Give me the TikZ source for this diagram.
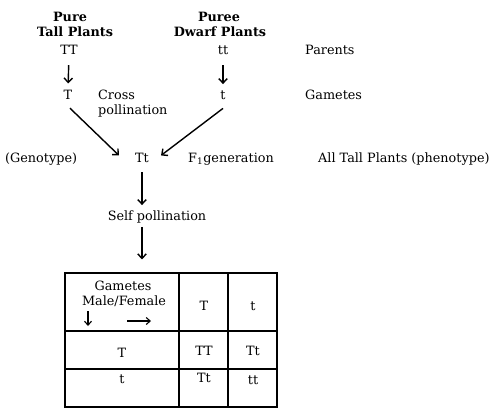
\documentclass[tikz,border=0pt]{standalone}
\usepackage{fontspec}
\setmainfont{DejaVu Serif}
\usetikzlibrary{arrows.meta}
\tikzset{
  lbl/.style={inner sep=0pt, anchor=base, font=\fontsize{12.8}{15}\selectfont},
  lblw/.style={lbl, anchor=base west},
  head/.style={lbl, font=\fontsize{12.8}{15}\selectfont\bfseries},
  arr/.style={line width=1.4pt, -{Straight Barb[length=4.5pt,width=8.5pt]}},
  grid/.style={line width=1.1pt},
}
\begin{document}
\begin{tikzpicture}[x=1pt,y=-1pt]
\useasboundingbox (0,0) rectangle (495,416);
% headers
\node[head] (pure) at (70,21) {Pure};
\node[head] (tall) at (75,36) {Tall Plants};
\node[head] (puree) at (219,21) {Puree};
\node[head] (dwarf) at (220,36) {Dwarf Plants};
% parents
\node[lbl] (TT) at (69,54) {TT};
\node[lbl] (tt) at (223,54) {tt};
\node[lblw] (parents) at (305,54) {Parents};
% gametes
\node[lbl] (T) at (68,99) {T};
\node[lbl] (t) at (223,99) {t};
\node[lblw] (cross) at (98,99) {Cross};
\node[lblw] (poll) at (98,114) {pollination};
\node[lblw] (gam) at (305,99) {Gametes};
% F1
\node[lblw] (geno) at (5,162) {(Genotype)};
\node[lbl] (Tt) at (142,162) {Tt};
\node[lblw] (f1) at (188,162) {F\textsubscript{1}generation};
\node[lblw] (all) at (318,162) {All Tall Plants (phenotype)};
\node[lbl] (self) at (157,220) {Self pollination};
% table
\node[draw, line width=1.2pt, minimum width=212pt, minimum height=134pt, inner sep=0pt] (tab) at (171,340) {};
\draw[grid] (179,273) -- (179,407);
\draw[grid] (228,273) -- (228,407);
\draw[grid] (65,331) -- (277,331);
\draw[grid] (65,369) -- (277,369);
\node[lbl] (gmt) at (123,290) {Gametes};
\node[lbl] (mf) at (124,305) {Male/Female};
\node[lbl] (hT) at (204,310) {T};
\node[lbl] (ht) at (253,310) {t};
\node[lbl] (r1) at (122,357) {T};
\node[lbl] (c11) at (204,355) {TT};
\node[lbl] (c12) at (253,355) {Tt};
\node[lbl] (r2) at (122,383) {t};
\node[lbl] (c21) at (204,382) {Tt};
\node[lbl] (c22) at (253,384) {tt};
\coordinate (da1) at (88,311);
\coordinate (da2) at (88,326);
\coordinate (ra1) at (127,321);
\coordinate (ra2) at (151,321);
\draw[line width=1.1pt, -{Straight Barb[length=4pt,width=7pt]}] (da1) -- (da2);
\draw[line width=1.1pt, -{Straight Barb[length=4pt,width=7pt]}] (ra1) -- (ra2);
% connectors
\draw[arr, shorten <=11pt, shorten >=6pt] (TT.south) -- (T.north);
\draw[arr, shorten <=11pt, shorten >=6pt] (tt.south) -- (t.north);
\draw[arr] ([shift={(2,9)}]T.south) -- ([shift={(-16,-2)}]Tt.west);
\draw[arr] ([shift={(0,9)}]t.south) -- ([shift={(12,-2)}]Tt.east);
\draw[arr, shorten <=10pt, shorten >=5pt] (Tt.south) -- (Tt.south |- self.north);
\draw[arr, shorten <=4pt, shorten >=13pt] (Tt.south |- self.south) -- (Tt.south |- tab.north);
\end{tikzpicture}
\end{document}
